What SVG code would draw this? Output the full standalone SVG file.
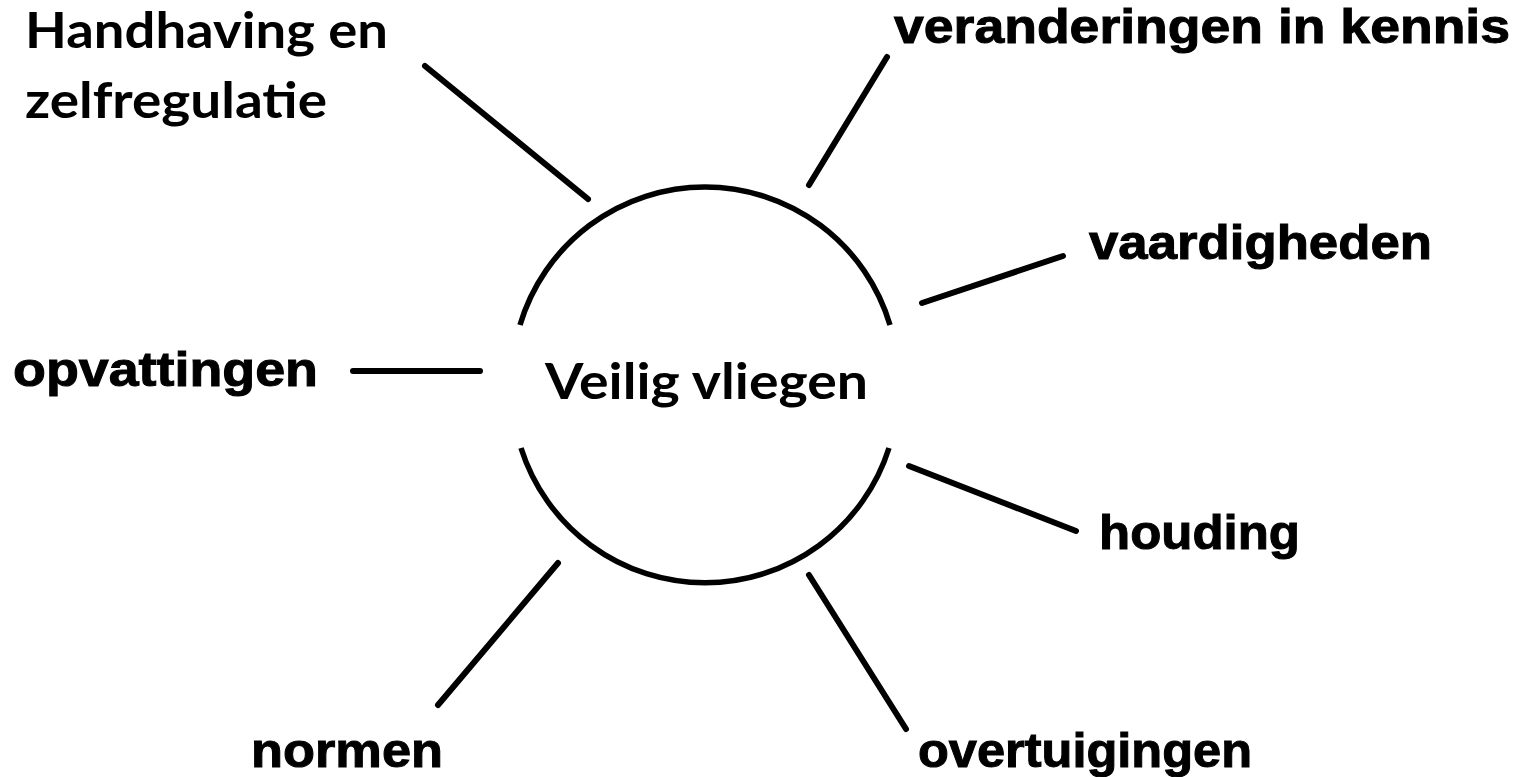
<svg xmlns="http://www.w3.org/2000/svg" width="1524" height="777" viewBox="0 0 1524 777">
<style>
.c{fill:none;stroke:#000;stroke-width:5.5}
.l{stroke:#000;stroke-width:6;stroke-linecap:round}
.a{font-family:"Liberation Sans",Arial,sans-serif;font-weight:bold;font-size:49px;fill:#000;stroke:#000;stroke-width:1}
.k{font-family:Lato,"Open Sans",sans-serif;font-weight:bold;font-size:50px;fill:#000}
</style>
<rect width="1524" height="777" fill="#fff"/>
<g id="center">
<path class="c" d="M520,325 A193,193 0 0 1 890,325"/>
<path class="c" d="M521,448 A193,193 0 0 0 889,448"/>
<text class="k" x="545" y="399" textLength="323" lengthAdjust="spacingAndGlyphs">Veilig vliegen</text>
</g>
<g id="connectors">
<line class="l" x1="425" y1="66" x2="588" y2="199"/>
<line class="l" x1="887" y1="57" x2="809" y2="185"/>
<line class="l" x1="1063" y1="256" x2="922" y2="303"/>
<line class="l" x1="353" y1="371" x2="480" y2="371"/>
<line class="l" x1="909" y1="466" x2="1076" y2="531"/>
<line class="l" x1="558" y1="563" x2="438" y2="705"/>
<line class="l" x1="809" y1="575" x2="906" y2="729"/>
</g>
<g id="n-handhaving">
<text class="k" x="25" y="48" textLength="363" lengthAdjust="spacingAndGlyphs">Handhaving en</text>
<text class="k" x="25" y="118" textLength="302" lengthAdjust="spacingAndGlyphs">zelfregulatie</text>
</g>
<g id="n-kennis"><text class="a" x="894" y="43" textLength="616" lengthAdjust="spacingAndGlyphs">veranderingen in kennis</text></g>
<g id="n-vaardigheden"><text class="a" x="1089" y="259" textLength="343" lengthAdjust="spacingAndGlyphs">vaardigheden</text></g>
<g id="n-opvattingen"><text class="a" x="13" y="386" textLength="305" lengthAdjust="spacingAndGlyphs">opvattingen</text></g>
<g id="n-houding"><text class="a" x="1099" y="549" textLength="201" lengthAdjust="spacingAndGlyphs">houding</text></g>
<g id="n-normen"><text class="a" x="251" y="767" textLength="192" lengthAdjust="spacingAndGlyphs">normen</text></g>
<g id="n-overtuigingen"><text class="a" x="918" y="767" textLength="334" lengthAdjust="spacingAndGlyphs">overtuigingen</text></g>
</svg>
